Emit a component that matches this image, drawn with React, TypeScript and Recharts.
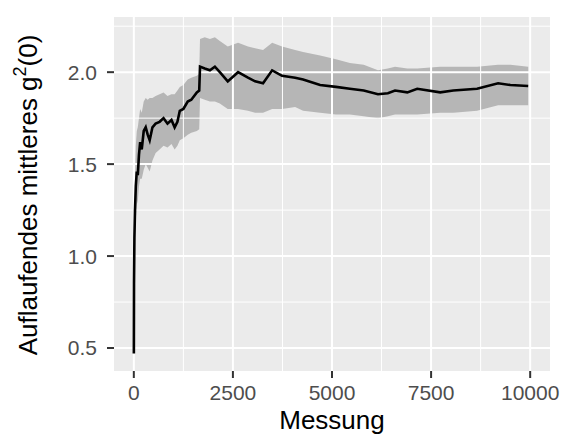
import {
  ComposedChart,
  XAxis,
  YAxis,
  Area,
  Line,
  ReferenceLine,
  ReferenceArea,
} from "recharts";

// running mean of g2(0) with confidence band
const messung = [
  1, 5, 15, 30, 50, 75, 100, 130, 160, 200, 250, 300, 350, 400, 470, 550, 650,
  750, 850, 950, 1030, 1100, 1160, 1250, 1360, 1450, 1590, 1650, 1670, 1790,
  1920, 2045, 2170, 2370, 2630, 2880, 3060, 3260, 3490, 3740, 4070, 4270, 4700,
  5100, 5450, 5800, 6160, 6410, 6590, 6900, 7150, 7730, 8060, 8660, 9190, 9500,
  9950,
];
const mittel = [
  0.47, 0.85, 1.1, 1.25, 1.38, 1.46, 1.44, 1.55, 1.62, 1.58, 1.68, 1.7, 1.66,
  1.63, 1.7, 1.72, 1.73, 1.75, 1.72, 1.74, 1.7, 1.73, 1.79, 1.8, 1.84, 1.85,
  1.89, 1.9, 2.03, 2.02, 2.01, 2.03, 2.0, 1.95, 2.0, 1.97, 1.95, 1.94, 2.01,
  1.98, 1.97, 1.96, 1.93, 1.92, 1.91, 1.9, 1.88, 1.885, 1.9, 1.89, 1.91, 1.89,
  1.9, 1.91, 1.94, 1.93, 1.925,
];
const unten = [
  0.47, 0.85, 1.0, 1.12, 1.2, 1.28, 1.3, 1.38, 1.42, 1.42, 1.47, 1.5, 1.48,
  1.46, 1.52, 1.56, 1.58, 1.6, 1.59, 1.61, 1.58, 1.6, 1.63, 1.64, 1.66, 1.67,
  1.68, 1.69, 1.86, 1.85, 1.84, 1.84, 1.83, 1.8, 1.8, 1.79, 1.78, 1.78, 1.8,
  1.8, 1.81, 1.79, 1.78, 1.77, 1.77, 1.76, 1.75, 1.76, 1.77, 1.77, 1.77, 1.78,
  1.78, 1.79, 1.82, 1.82, 1.82,
];
const oben = [
  0.47, 0.85, 1.2, 1.42, 1.6, 1.68, 1.7, 1.75, 1.8, 1.78, 1.84, 1.86, 1.85,
  1.86, 1.86, 1.87, 1.88, 1.89, 1.87, 1.88, 1.88, 1.9, 1.92, 1.93, 1.96, 1.97,
  1.98, 1.99, 2.18, 2.19, 2.18, 2.19, 2.17, 2.14, 2.16, 2.14, 2.13, 2.12, 2.16,
  2.14, 2.12, 2.11, 2.09, 2.07, 2.05, 2.04, 2.01, 2.02, 2.03, 2.02, 2.02, 2.03,
  2.03, 2.03, 2.04, 2.04, 2.03,
];

const xTicks = [0, 2500, 5000, 7500, 10000];
const xMinor = [1250, 3750, 6250, 8750];
const yTicks = [0.5, 1.0, 1.5, 2.0];
const yMinor = [0.75, 1.25, 1.75, 2.25];

const data = messung.map((m, i) => ({
  messung: m,
  mittel: mittel[i],
  band: [unten[i], oben[i]],
}));

const FONT = "'Liberation Sans', Arial, Helvetica, sans-serif";
const X_DOMAIN = [-500, 10500];
const Y_DOMAIN = [0.375, 2.3];

export default function App() {
  return (
    <div style={{ position: "absolute", left: 0, top: 0, background: "#fff" }}>
      <ComposedChart
        width={563}
        height={441}
        data={data}
        margin={{ top: 17, right: 13, bottom: 0, left: 0 }}
        style={{ fontFamily: FONT }}
      >
        <XAxis
          dataKey="messung"
          type="number"
          domain={X_DOMAIN}
          ticks={xTicks}
          allowDataOverflow
          height={70}
          axisLine={false}
          tickSize={7}
          tickMargin={7}
          tickLine={{ stroke: "#333333", strokeWidth: 2 }}
          tick={{ fill: "#4d4d4d", fontSize: 21 }}
          tickFormatter={(v) => String(v)}
          label={() => (
            <text
              x={332}
              y={429}
              textAnchor="middle"
              fill="#000"
              fontSize={26}
              fontFamily={FONT}
            >
              Messung
            </text>
          )}
        />
        <YAxis
          type="number"
          domain={Y_DOMAIN}
          ticks={yTicks}
          allowDataOverflow
          width={114}
          axisLine={false}
          tickSize={7}
          tickMargin={10}
          tickLine={{ stroke: "#333333", strokeWidth: 2 }}
          tick={{ fill: "#4d4d4d", fontSize: 21 }}
          tickFormatter={(v) => Number(v).toFixed(1)}
          label={() => (
            <text
              x={37}
              y={195}
              transform="rotate(-90 37 195)"
              textAnchor="middle"
              fill="#000"
              fontSize={26}
              fontFamily={FONT}
            >
              Auflaufendes mittleres g
              <tspan fontSize={18} dy={-11}>
                2
              </tspan>
              <tspan dy={11}>(0)</tspan>
            </text>
          )}
        />
        <ReferenceArea
          x1={X_DOMAIN[0]}
          x2={X_DOMAIN[1]}
          y1={Y_DOMAIN[0]}
          y2={Y_DOMAIN[1]}
          fill="#ebebeb"
          fillOpacity={1}
          stroke="none"
        />
        {xMinor.map((v) => (
          <ReferenceLine key={"xm" + v} x={v} stroke="#fff" strokeWidth={1} />
        ))}
        {yMinor.map((v) => (
          <ReferenceLine key={"ym" + v} y={v} stroke="#fff" strokeWidth={1} />
        ))}
        {xTicks.map((v) => (
          <ReferenceLine key={"x" + v} x={v} stroke="#fff" strokeWidth={2} />
        ))}
        {yTicks.map((v) => (
          <ReferenceLine key={"y" + v} y={v} stroke="#fff" strokeWidth={2} />
        ))}
        <Area
          dataKey="band"
          type="linear"
          stroke="none"
          fill="#666666"
          fillOpacity={0.4}
          isAnimationActive={false}
        />
        <Line
          dataKey="mittel"
          type="linear"
          stroke="#000"
          strokeWidth={2.6}
          dot={false}
          isAnimationActive={false}
        />
      </ComposedChart>
    </div>
  );
}
